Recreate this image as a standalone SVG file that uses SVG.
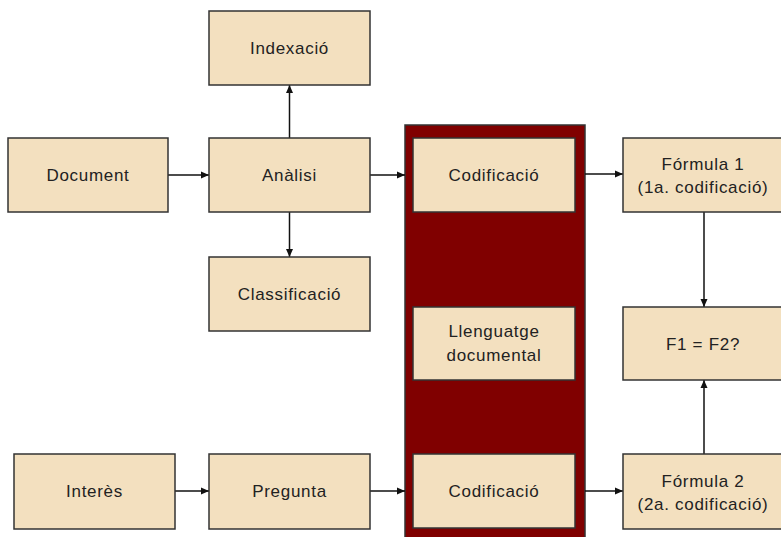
<svg xmlns="http://www.w3.org/2000/svg" width="781" height="537" viewBox="0 0 781 537">
<defs>
<style>
.box{fill:#F3E0BF;stroke:#333;stroke-width:1.5}
.t{font-family:"Liberation Sans",Arial,sans-serif;font-size:17px;letter-spacing:0.7px;fill:#222;text-anchor:middle}
.c{stroke:#111;stroke-width:1.5;fill:none;marker-end:url(#ah)}
</style>
<marker id="ah" viewBox="0 0 8 8" refX="8" refY="4" markerWidth="8" markerHeight="8" markerUnits="userSpaceOnUse" orient="auto">
<path d="M0,0.5 L8,4 L0,7.5 Z" fill="#111"/>
</marker>
</defs>
<rect width="781" height="537" fill="#fff"/>
<rect id="lang-column" x="405" y="125" width="180" height="420" fill="#800000" stroke="#333" stroke-width="1.5"/>
<g id="connectors">
<line class="c" x1="168" y1="175" x2="209" y2="175"/>
<line class="c" x1="289.5" y1="138" x2="289.5" y2="85"/>
<line class="c" x1="289.5" y1="212" x2="289.5" y2="257"/>
<line class="c" x1="370" y1="175" x2="405" y2="175"/>
<line class="c" x1="585" y1="174" x2="623" y2="174"/>
<line class="c" x1="704" y1="212" x2="704" y2="307"/>
<line class="c" x1="175" y1="491" x2="209" y2="491"/>
<line class="c" x1="370" y1="491" x2="405" y2="491"/>
<line class="c" x1="585" y1="491" x2="623" y2="491"/>
<line class="c" x1="704" y1="454" x2="704" y2="380"/>
</g>
<g id="indexacio"><rect class="box" x="209" y="11" width="161" height="74"/><text class="t" x="289.5" y="54">Indexació</text></g>
<g id="document"><rect class="box" x="8" y="138" width="160" height="74"/><text class="t" x="88" y="181">Document</text></g>
<g id="analisi"><rect class="box" x="209" y="138" width="161" height="74"/><text class="t" x="289.5" y="181">Anàlisi</text></g>
<g id="classificacio"><rect class="box" x="209" y="257" width="161" height="74"/><text class="t" x="289.5" y="300">Classificació</text></g>
<g id="codificacio1"><rect class="box" x="413" y="138" width="162" height="74"/><text class="t" x="494" y="181">Codificació</text></g>
<g id="formula1"><rect class="box" x="623" y="138" width="170" height="74"/><text class="t" x="703" y="170">Fórmula 1</text><text class="t" x="703" y="193">(1a. codificació)</text></g>
<g id="llenguatge"><rect class="box" x="413" y="307" width="162" height="73"/><text class="t" x="494" y="337">Llenguatge</text><text class="t" x="494" y="361">documental</text></g>
<g id="f1f2"><rect class="box" x="623" y="307" width="170" height="73"/><text class="t" x="703" y="350">F1 = F2?</text></g>
<g id="interes"><rect class="box" x="14" y="454" width="161" height="75"/><text class="t" x="94.5" y="497">Interès</text></g>
<g id="pregunta"><rect class="box" x="209" y="454" width="161" height="75"/><text class="t" x="289.5" y="497">Pregunta</text></g>
<g id="codificacio2"><rect class="box" x="413" y="454" width="162" height="74"/><text class="t" x="494" y="497">Codificació</text></g>
<g id="formula2"><rect class="box" x="623" y="454" width="170" height="75"/><text class="t" x="703" y="487">Fórmula 2</text><text class="t" x="703" y="510">(2a. codificació)</text></g>
</svg>
